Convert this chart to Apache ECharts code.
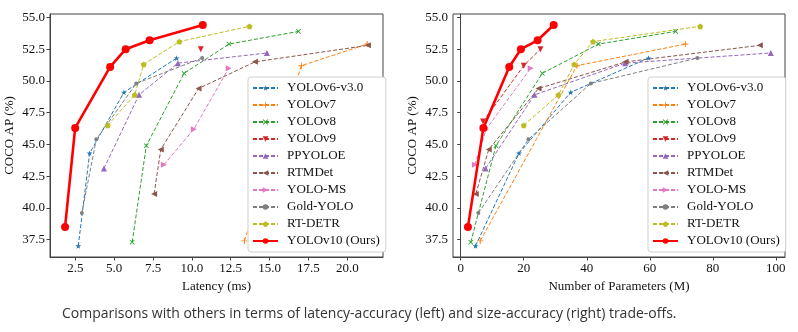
<!DOCTYPE html>
<html>
<head>
<meta charset="utf-8">
<script src="https://cdn.jsdelivr.net/npm/echarts@6/dist/echarts.min.js"></script>
<style>
  html, body { margin: 0; padding: 0; background: #fff; }
  #chart { width: 798px; height: 332px; }
</style>
</head>
<body>
<div id="chart"></div>
<script>
// Model families in legend order
const modelNames = ['YOLOv6-v3.0', 'YOLOv7', 'YOLOv8', 'YOLOv9', 'PPYOLOE', 'RTMDet',
  'YOLO-MS', 'Gold-YOLO', 'RT-DETR', 'YOLOv10 (Ours)'];

// COCO AP (%) per model scale
const yolov6AP = [37.0, 44.3, 49.1, 51.8];
const yolov7AP = [37.4, 51.2, 52.9];
const yolov8AP = [37.3, 44.9, 50.6, 52.9, 53.9];
const yolov9AP = [46.8, 51.2, 52.5];
const ppyoloeAP = [43.1, 48.9, 51.4, 52.2];
const rtmdetAP = [41.1, 44.6, 49.4, 51.5, 52.8];
const yoloMsAP = [43.4, 46.2, 51.0];
const goldYoloAP = [39.6, 45.4, 49.8, 51.8];
const rtDetrAP = [46.5, 48.9, 51.3, 53.1, 54.3];
const yolov10AP = [38.5, 46.3, 51.1, 52.5, 53.2, 54.4];

// Latency (ms); null where no latency is reported
const yolov6Latency = [2.69, 3.42, 5.63, 9.02];
const yolov7Latency = [13.38, 17.05, 21.28];
const yolov8Latency = [6.16, 7.07, 9.50, 12.39, 16.86];
const yolov9Latency = [null, null, 10.57];
const ppyoloeLatency = [4.34, 6.60, 9.10, 14.83];
const rtmdetLatency = [7.57, 8.00, 10.43, 14.06, 21.33];
const yoloMsLatency = [8.20, 10.13, 12.37];
const goldYoloLatency = [2.92, 3.85, 6.42, 10.66];
const rtDetrLatency = [4.58, 6.32, 6.90, 9.20, 13.71];
const yolov10Latency = [1.84, 2.49, 4.74, 5.74, 7.28, 10.70];

// Number of parameters (M)
const yolov6Params = [4.7, 18.5, 34.9, 59.6];
const yolov7Params = [6.2, 36.9, 71.3];
const yolov8Params = [3.2, 11.2, 25.9, 43.7, 68.2];
const yolov9Params = [7.1, 20.0, 25.3];
const ppyoloeParams = [7.9, 23.4, 52.2, 98.4];
const rtmdetParams = [4.8, 8.9, 24.7, 52.3, 94.9];
const yoloMsParams = [4.5, 8.1, 22.2];
const goldYoloParams = [5.6, 21.5, 41.3, 75.1];
const rtDetrParams = [20.0, 31.0, 36.0, 42.0, 76.0];
const yolov10Params = [2.3, 7.2, 15.4, 19.1, 24.4, 29.5];

// Tick labels
const apTicks = [37.5, 40.0, 42.5, 45.0, 47.5, 50.0, 52.5, 55.0];
const latencyTicks = [2.5, 5.0, 7.5, 10.0, 12.5, 15.0, 17.5, 20.0];
const paramTicks = [0, 20, 40, 60, 80, 100];

const apList = [yolov6AP, yolov7AP, yolov8AP, yolov9AP, ppyoloeAP, rtmdetAP, yoloMsAP, goldYoloAP, rtDetrAP, yolov10AP];
const latencyList = [yolov6Latency, yolov7Latency, yolov8Latency, yolov9Latency, ppyoloeLatency, rtmdetLatency, yoloMsLatency, goldYoloLatency, rtDetrLatency, yolov10Latency];
const paramList = [yolov6Params, yolov7Params, yolov8Params, yolov9Params, ppyoloeParams, rtmdetParams, yoloMsParams, goldYoloParams, rtDetrParams, yolov10Params];

const colors = ['#1f77b4', '#ff7f0e', '#2ca02c', '#d62728', '#9467bd', '#8c564b',
  '#e377c2', '#7f7f7f', '#bcbd22', '#ff0000'];

const STAR = 'path://M50,0L61,35H98L68,57L79,91L50,70L21,91L32,57L2,35H39Z';
const PLUS = 'path://M42,0H58V42H100V58H58V100H42V58H0V42H42Z';
const CROSS = 'path://M0,12L12,0L50,38L88,0L100,12L62,50L100,88L88,100L50,62L12,100L0,88L38,50Z';
const PENTA = 'path://M50,0L98,35L79,91H21L2,35Z';

const markers = [
  { symbol: STAR, size: 6, rotate: 0 },
  { symbol: PLUS, size: 6, rotate: 0 },
  { symbol: CROSS, size: 5, rotate: 0 },
  { symbol: 'triangle', size: 6, rotate: 180 },
  { symbol: 'triangle', size: 6, rotate: 0 },
  { symbol: 'triangle', size: 6, rotate: 90 },
  { symbol: 'triangle', size: 6, rotate: -90 },
  { symbol: 'circle', size: 4, rotate: 0 },
  { symbol: PENTA, size: 6, rotate: 0 },
  { symbol: 'circle', size: 8, rotate: 0 }
];

const SERIF = 'Liberation Serif';

function pairs(xs, ys) {
  const out = [];
  xs.forEach((x, i) => { if (x !== null) out.push([x, ys[i]]); });
  return out;
}

const series = [];
[0, 1].forEach(g => {
  modelNames.forEach((name, i) => {
    const ours = i === modelNames.length - 1;
    series.push({
      name: name,
      type: 'line',
      xAxisIndex: g,
      yAxisIndex: g,
      data: pairs(g === 0 ? latencyList[i] : paramList[i], apList[i]),
      symbol: markers[i].symbol,
      symbolSize: markers[i].size,
      symbolRotate: markers[i].rotate,
      symbolKeepAspect: true,
      showAllSymbol: true,
      color: colors[i],
      itemStyle: { color: colors[i], borderWidth: 0 },
      lineStyle: ours
        ? { color: colors[i], width: 2.6, type: 'solid' }
        : { color: colors[i], width: 1, type: [4, 2] },
      z: ours ? 5 : 3,
      animation: false,
      emphasis: { disabled: true }
    });
  });
});

function xAxisCfg(idx, min, max, ticks, name, digits) {
  return {
    gridIndex: idx, type: 'value', min: min, max: max,
    name: name, nameLocation: 'middle', nameGap: 21,
    nameTextStyle: { fontFamily: SERIF, fontSize: 13, color: '#111' },
    axisLine: { show: true, lineStyle: { color: '#444', width: 1 } },
    axisTick: { show: true, inside: false, length: 3.5, customValues: ticks, lineStyle: { color: '#444' } },
    axisLabel: { customValues: ticks, margin: 5, fontFamily: SERIF, fontSize: 13, color: '#111',
      formatter: v => v.toFixed(digits) },
    splitLine: { show: false }
  };
}

function yAxisCfg(idx) {
  return {
    gridIndex: idx, type: 'value', min: 36.13, max: 55.27,
    name: 'COCO AP (%)', nameLocation: 'middle', nameGap: 34,
    nameTextStyle: { fontFamily: SERIF, fontSize: 13, color: '#111' },
    axisLine: { show: true, lineStyle: { color: '#444', width: 1 } },
    axisTick: { show: true, inside: false, length: 3.5, customValues: apTicks, lineStyle: { color: '#444' } },
    axisLabel: { customValues: apTicks, margin: 5, fontFamily: SERIF, fontSize: 13, color: '#111',
      formatter: v => v.toFixed(1) },
    splitLine: { show: false }
  };
}

function legendCfg(left) {
  return {
    left: left, top: 77, orient: 'vertical',
    backgroundColor: '#fff', borderColor: '#d0d0d0', borderWidth: 1, borderRadius: 3,
    padding: [4, 6, 4, 4], itemWidth: 25, itemHeight: 7, itemGap: 3,
    textStyle: { fontFamily: SERIF, fontSize: 13, color: '#111', lineHeight: 14, padding: [0, 0, 0, 4] },
    data: modelNames, selectedMode: false
  };
}

const chart = echarts.init(document.getElementById('chart'), null, { renderer: 'canvas' });
chart.setOption({
  backgroundColor: '#fff',
  animation: false,
  grid: [
    { left: 50, top: 14, width: 333, height: 243, show: true, borderColor: '#444', borderWidth: 1, backgroundColor: 'transparent' },
    { left: 453, top: 14, width: 332, height: 243, show: true, borderColor: '#444', borderWidth: 1, backgroundColor: 'transparent' }
  ],
  xAxis: [
    xAxisCfg(0, 0.87, 22.3, latencyTicks, 'Latency (ms)', 1),
    xAxisCfg(1, -2.44, 102.9, paramTicks, 'Number of Parameters (M)', 0)
  ],
  yAxis: [yAxisCfg(0), yAxisCfg(1)],
  legend: [legendCfg(248), legendCfg(648)],
  series: series,
  graphic: [{
    type: 'text', left: 62, top: 307,
    style: {
      text: 'Comparisons with others in terms of latency-accuracy (left) and size-accuracy (right) trade-offs.',
      fontFamily: 'Open Sans', fontSize: 14, fill: '#333'
    }
  }]
});
</script>
</body>
</html>
